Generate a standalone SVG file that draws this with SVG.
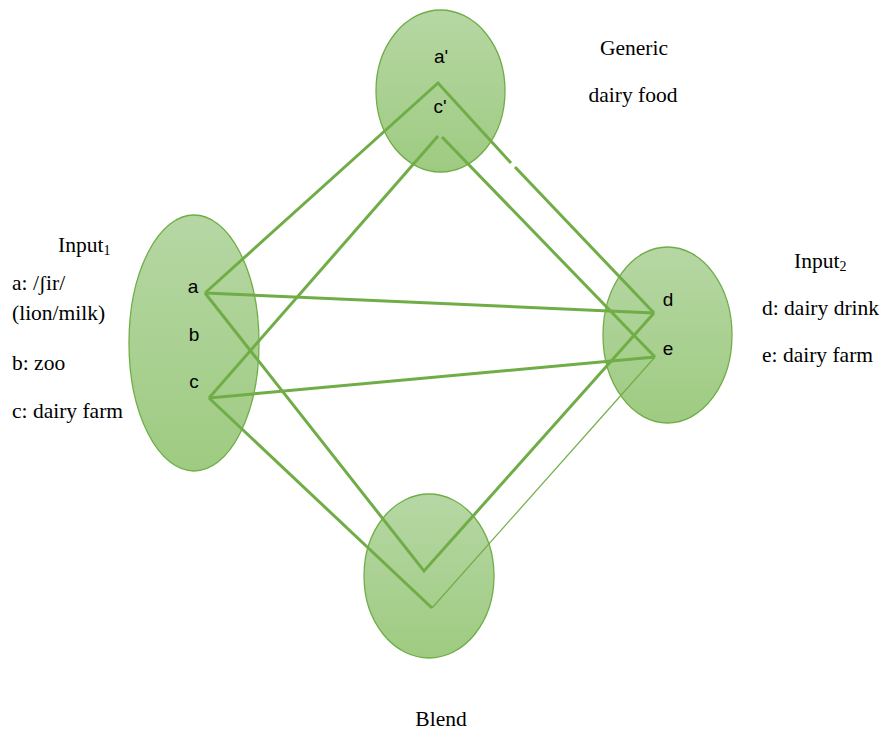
<svg xmlns="http://www.w3.org/2000/svg" width="880" height="733" viewBox="0 0 880 733">
  <defs>
    <linearGradient id="greenFill" x1="0" y1="0" x2="0" y2="1">
      <stop offset="0" stop-color="#b6d7a4"/>
      <stop offset="1" stop-color="#9ecb81"/>
    </linearGradient>
  </defs>
  <style>
    .space { fill: url(#greenFill); stroke: #70ad47; stroke-width: 1.3; }
    .link { fill: none; stroke: #70ad47; stroke-width: 3; stroke-linejoin: miter; stroke-linecap: butt; }
    .link.thin { stroke-width: 1.2; }
    .el { font-family: "Liberation Sans", Arial, sans-serif; font-size: 19px; fill: #000; }
    .note { font-family: "Liberation Serif", "Times New Roman", serif; font-size: 21.5px; fill: #000; }
  </style>
  <rect width="880" height="733" fill="#ffffff"/>

  <!-- mental spaces -->
  <g id="generic">
    <ellipse class="space" cx="440.5" cy="91" rx="64.5" ry="81"/>
    <text class="el" x="441" y="63" text-anchor="middle">a'</text>
    <text class="el" x="440" y="113" text-anchor="middle">c'</text>
  </g>
  <g id="input1">
    <ellipse class="space" cx="194" cy="343" rx="65" ry="128"/>
    <text class="el" x="193" y="293" text-anchor="middle">a</text>
    <text class="el" x="194" y="341" text-anchor="middle">b</text>
    <text class="el" x="194" y="388" text-anchor="middle">c</text>
  </g>
  <g id="input2">
    <ellipse class="space" cx="667.5" cy="335" rx="64.5" ry="88"/>
    <text class="el" x="668" y="306" text-anchor="middle">d</text>
    <text class="el" x="668" y="355" text-anchor="middle">e</text>
  </g>
  <g id="blend">
    <ellipse class="space" cx="429" cy="576" rx="65" ry="82"/>
  </g>

  <!-- mappings between the spaces -->
  <g id="connectors">
    <polyline class="link" points="205,293 438,83 511,163"/>
    <polyline class="link" points="515,167 654,313"/>
    <polyline class="link" points="209,398 438,136"/>
    <polyline class="link" points="442,137 655,357"/>
    <polyline class="link" points="205,293 654,313"/>
    <polyline class="link" points="209,398 655,357"/>
    <polyline class="link" points="205,293 424,571 654,313"/>
    <polyline class="link" points="209,398 432,608"/>
    <polyline class="link thin" points="432,608 655,357"/>
  </g>

  <!-- captions -->
  <g id="captions">
    <text class="note" x="634" y="55" text-anchor="middle">Generic</text>
    <text class="note" x="633" y="102" text-anchor="middle">dairy food</text>
    <text class="note" x="58" y="252">Input<tspan font-size="14px" dy="3">1</tspan></text>
    <text class="note" x="12" y="290">a: /ʃir/</text>
    <text class="note" x="12" y="320">(lion/milk)</text>
    <text class="note" x="12" y="370">b: zoo</text>
    <text class="note" x="12" y="418">c: dairy farm</text>
    <text class="note" x="794" y="268">Input<tspan font-size="14px" dy="3">2</tspan></text>
    <text class="note" x="762" y="315">d: dairy drink</text>
    <text class="note" x="762" y="362">e: dairy farm</text>
    <text class="note" x="441" y="726" text-anchor="middle">Blend</text>
  </g>
</svg>
